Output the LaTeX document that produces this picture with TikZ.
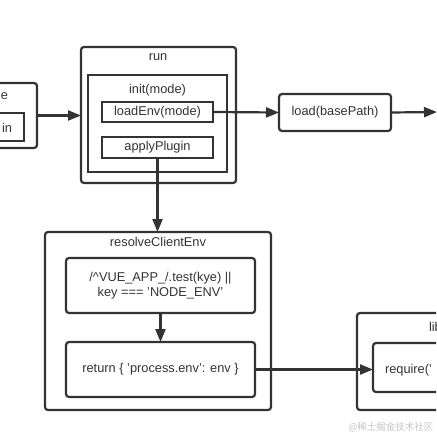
\documentclass[tikz,border=0pt]{standalone}
\usepackage{fontspec}
\setmainfont{Liberation Sans}
\newfontfamily\cjkfont{Noto Sans CJK SC}
\usetikzlibrary{arrows.meta}
\definecolor{ink}{HTML}{333333}
\definecolor{mark}{HTML}{C4C4C4}
\begin{document}
\begin{tikzpicture}[x=1pt,y=-1pt]
\tikzset{ >={Triangle[length=13pt,width=10pt]}, every node/.style={text=ink, font=\fontsize{12.8}{15.5}\selectfont, inner sep=0pt, outer sep=0pt},
  frame/.style={draw=ink, line width=2.2pt, rounded corners=3pt},
  plain/.style={draw=ink, line width=2.2pt},
  link/.style={draw=ink, line width=2.2pt}, }

\useasboundingbox (0,0) rectangle (436,436);
\clip (0,0) rectangle (436,436);

\node [frame, minimum width=107, minimum height=65] (Cli) at (-16.5,115.5) {};
\node [plain, minimum width=74, minimum height=28] (CliIn) at (-13,127) {};
\node [anchor=east] (CliT) at (8,96) {e};
\node [anchor=east] (CliInT) at (12,128) {in};

\node [frame, minimum width=155, minimum height=136] (Run) at (158.5,115) {};
\node [plain, minimum width=139, minimum height=97] (Init) at (157.5,123.5) {};
\node [plain, minimum width=111, minimum height=20] (LoadEnv) at (157.5,112) {loadEnv(mode)};
\node [plain, minimum width=111, minimum height=21] (Apply) at (157.5,147.5) {applyPlugin};
\node (RunT) at (158,57) {run};
\node (InitT) at (157.5,90) {init(mode)};

\node [frame, minimum width=112, minimum height=37] (Load) at (335,112.5) {load(basePath)};
\coordinate (Next) at (437,112);

\node [frame, minimum width=226, minimum height=178] (Resolve) at (158,321) {};
\node (ResolveT) at (158,242) {resolveClientEnv};
\node [frame, minimum width=189, minimum height=55, align=center] (Test) at (160.5,285.5) {/\textasciicircum VUE\_APP\_/.test(kye) ||\\key === 'NODE\_ENV'};
\node [frame, minimum width=189, minimum height=55] (Ret) at (160.5,369.5) {return \{ 'process.env': env \}};

\node [frame, minimum width=163, minimum height=97] (Lib) at (438.5,361.5) {};
\node [frame, minimum width=127, minimum height=49] (Req) at (436.5,367.5) {};
\node [anchor=west] (LibT) at (429,327) {lib};
\node [anchor=west] (ReqT) at (385,370) {require('};

\draw [link, ->] (Cli.east) -- (Cli.east -| Run.west);
\draw [link, ->] (LoadEnv.east) -- (Load.west);
\draw [link, ->] (Load.east) -- (Next);
\draw [link, ->] (Apply.south) -- (Apply.south |- Resolve.north);
\draw [link, ->] (Test.south) -- (Ret.north);
\draw [link, ->] (Ret.east) -- (Ret.east -| Req.west);

\node [text=mark, font=\cjkfont\fontsize{9.5}{11}\selectfont] (Mark) at (391,427) {@稀土掘金技术社区};
\end{tikzpicture}
\end{document}
